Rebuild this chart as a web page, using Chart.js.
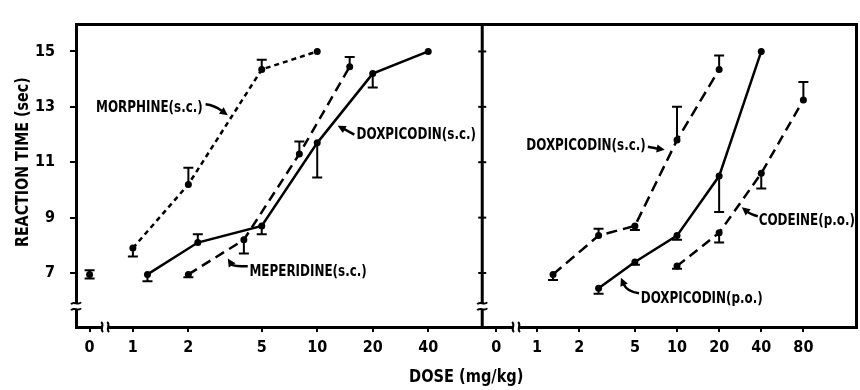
<!DOCTYPE html>
<html lang="en">
<head>
<meta charset="utf-8"/>
<title>Reaction time vs dose</title>
<script src="https://cdn.jsdelivr.net/npm/chart.js@4.4.1/dist/chart.umd.min.js"></script>
<style>
  html, body { margin: 0; padding: 0; background: #fff; }
  .wrap { width: 860px; height: 390px; }
</style>
</head>
<body>
<div class="wrap"><canvas id="chart" width="860" height="390"></canvas></div>
<script>
// dose in mg/kg, reaction time in sec; sem is [below, above] the mean
const CONTROL_DOSE = [0];
const CONTROL_TIME = [6.95];
const CONTROL_SEM = [[0.15, 0.15]];

const MORPHINE_DOSE = [1, 2, 5, 10];
const MORPHINE_TIME = [7.9, 10.2, 14.35, 15.0];
const MORPHINE_SEM = [[0.3, 0], [0, 0.6], [0, 0.35], [0, 0]];

const MEPERIDINE_DOSE = [2, 4, 8, 15];
const MEPERIDINE_TIME = [6.95, 8.2, 11.3, 14.45];
const MEPERIDINE_SEM = [[0.1, 0], [0.5, 0], [0, 0.45], [0, 0.35]];

const DOXSC_L_DOSE = [1.2, 2.25, 5, 10, 20, 40];
const DOXSC_L_TIME = [6.95, 8.1, 8.7, 11.7, 14.2, 15.0];
const DOXSC_L_SEM = [[0.25, 0], [0, 0.3], [0.3, 0], [1.25, 0], [0.5, 0], [0, 0]];

const DOXSC_R_DOSE = [1.3, 2.75, 5, 10, 20];
const DOXSC_R_TIME = [6.95, 8.35, 8.7, 11.8, 14.35];
const DOXSC_R_SEM = [[0.2, 0], [0, 0.25], [0.15, 0], [0, 1.2], [0, 0.5]];

const DOXPO_DOSE = [2.75, 5, 10, 20, 40];
const DOXPO_TIME = [6.45, 7.4, 8.35, 10.5, 15.0];
const DOXPO_SEM = [[0.2, 0], [0.1, 0], [0.15, 0], [1.3, 0], [0, 0]];

const CODEINE_DOSE = [10, 20, 40, 80];
const CODEINE_TIME = [7.25, 8.45, 10.6, 13.25];
const CODEINE_SEM = [[0.1, 0], [0.35, 0], [0.55, 0], [0, 0.65]];

const LEFT_TICKS = [0, 1, 2, 5, 10, 20, 40];
const RIGHT_TICKS = [0, 1, 2, 5, 10, 20, 40, 80];
const Y_TICKS = [7, 9, 11, 13, 15];

const FONT = '"Liberation Sans Narrow", "DejaVu Sans Condensed", sans-serif';
Chart.defaults.font.family = FONT;
Chart.defaults.color = '#000';

// doses run on a log2 axis; the control ("0") column sits left of dose 1
const CTRL_L = -0.78, CTRL_R = -0.97;
const BREAK_X = -0.5, BREAK_Y = 5.8;
const xpos = (d, ctrl) => d === 0 ? ctrl : Math.log2(d);

// drug labels with their pointer arrows, in axis units (log2 dose, sec)
const NOTES = [
  { axis: 'xL', text: 'MORPHINE(s.c.)', x: 1.26, y: 12.95, align: 'right',
    arrow: [[1.31, 13.09], [1.47, 13.05], [1.71, 12.7]] },
  { axis: 'xL', text: 'DOXPICODIN(s.c.)', x: 4.03, y: 12.0, align: 'left',
    arrow: [[3.99, 12.0], [3.84, 12.16], [3.69, 12.32]] },
  { axis: 'xL', text: 'MEPERIDINE(s.c.)', x: 2.1, y: 7.03, align: 'left',
    arrow: [[2.07, 7.24], [1.8, 7.24], [1.71, 7.52]] },
  { axis: 'xR', text: 'DOXPICODIN(s.c.)', x: 2.58, y: 11.6, align: 'right',
    arrow: [[2.63, 11.56], [2.83, 11.5], [3.03, 11.45]] },
  { axis: 'xR', text: 'CODEINE(p.o.)', x: 5.26, y: 8.88, align: 'left',
    arrow: [[5.24, 9.05], [5.07, 9.12], [4.86, 9.37]] },
  { axis: 'xR', text: 'DOXPICODIN(p.o.)', x: 2.46, y: 6.06, align: 'left',
    arrow: [[2.42, 6.27], [2.13, 6.34], [1.99, 6.83]] }
];

function series(axis, ctrl, doses, times, sem, dash, showLine) {
  return {
    xAxisID: axis, yAxisID: 'y',
    data: doses.map((d, i) => ({ x: xpos(d, ctrl), y: times[i] })),
    sem: sem,
    borderColor: '#000', backgroundColor: '#000',
    borderWidth: 2.5, borderDash: dash,
    pointRadius: 3.5, pointHoverRadius: 3.5, pointBorderWidth: 0,
    pointBackgroundColor: '#000',
    showLine: showLine !== false, tension: 0, fill: false
  };
}

function doseAxis(ticks, ctrl, min, max, weight) {
  return {
    type: 'linear', position: 'bottom', stack: 'dose', stackWeight: weight,
    min: min, max: max,
    afterBuildTicks: s => { s.ticks = ticks.map(d => ({ value: xpos(d, ctrl) })); },
    afterFit: s => { s.height = 63; },
    ticks: {
      autoSkip: false, maxRotation: 0, padding: 6,
      font: { size: 16, weight: 'bold' },
      callback: v => {
        const d = ticks.find(t => Math.abs(xpos(t, ctrl) - v) < 1e-6);
        return d === undefined ? '' : String(d);
      }
    },
    grid: { drawOnChartArea: false, tickLength: 5, color: '#000', lineWidth: 2 },
    border: { display: true, color: '#000', width: 3 }
  };
}

// narrow, heavy lettering: squeeze the text horizontally
function narrowText(ctx, text, x, y, align, squeeze, angle) {
  ctx.save();
  ctx.translate(x, y);
  if (angle) ctx.rotate(angle);
  ctx.scale(squeeze, 1);
  ctx.textAlign = align;
  ctx.fillText(text, 0, 0);
  ctx.restore();
}

function drawBreak(ctx, x, y, vertical) {
  ctx.save();
  ctx.translate(x, y);
  if (!vertical) ctx.rotate(Math.PI / 2);
  ctx.fillStyle = '#fff';
  ctx.fillRect(-3, -3, 6, 6);
  ctx.strokeStyle = '#000';
  ctx.lineWidth = 2;
  [-3, 3].forEach(o => {
    ctx.beginPath();
    ctx.moveTo(-5, o + 1);
    ctx.bezierCurveTo(-2, o - 3, 2, o + 3, 5, o - 1);
    ctx.stroke();
  });
  ctx.restore();
}

function drawArrow(ctx, pts) {
  const [a, c, b] = pts;
  const ang = Math.atan2(b[1] - c[1], b[0] - c[0]);
  const len = 8, half = 4;
  const bx = b[0] - Math.cos(ang) * (len - 1), by = b[1] - Math.sin(ang) * (len - 1);
  ctx.beginPath();
  ctx.moveTo(a[0], a[1]);
  ctx.quadraticCurveTo(c[0], c[1], bx, by);
  ctx.stroke();
  ctx.beginPath();
  ctx.moveTo(b[0], b[1]);
  ctx.lineTo(b[0] - Math.cos(ang) * len - Math.sin(ang) * half, b[1] - Math.sin(ang) * len + Math.cos(ang) * half);
  ctx.lineTo(b[0] - Math.cos(ang) * len + Math.sin(ang) * half, b[1] - Math.sin(ang) * len - Math.cos(ang) * half);
  ctx.closePath();
  ctx.fill();
}

const errorBars = {
  id: 'errorBars',
  afterDatasetsDraw(chart) {
    const ctx = chart.ctx, y = chart.scales.y;
    ctx.save();
    ctx.strokeStyle = '#000';
    ctx.lineWidth = 2;
    chart.data.datasets.forEach((ds, di) => {
      const meta = chart.getDatasetMeta(di);
      ds.data.forEach((p, i) => {
        const [lo, hi] = ds.sem[i];
        const x = meta.data[i].x;
        [[lo, -1], [hi, 1]].forEach(([e, s]) => {
          if (!e) return;
          const y0 = y.getPixelForValue(p.y), y1 = y.getPixelForValue(p.y + s * e);
          ctx.beginPath();
          ctx.moveTo(x, y0); ctx.lineTo(x, y1);
          ctx.moveTo(x - 5, y1); ctx.lineTo(x + 5, y1);
          ctx.stroke();
        });
      });
    });
    ctx.restore();
  }
};

const frame = {
  id: 'frame',
  afterDraw(chart) {
    const ctx = chart.ctx, a = chart.chartArea, y = chart.scales.y;
    const xL = chart.scales.xL, xR = chart.scales.xR;
    ctx.save();
    ctx.strokeStyle = '#000';
    ctx.fillStyle = '#000';
    ctx.lineWidth = 3;
    ctx.beginPath();
    ctx.moveTo(a.left, a.top); ctx.lineTo(a.right, a.top); ctx.lineTo(a.right, a.bottom);
    ctx.moveTo(xL.right, a.top); ctx.lineTo(xL.right, a.bottom);
    ctx.stroke();
    // ticks on the panel divider
    ctx.lineWidth = 2;
    Y_TICKS.forEach(v => {
      const py = y.getPixelForValue(v);
      ctx.beginPath(); ctx.moveTo(xL.right - 4, py); ctx.lineTo(xL.right + 4, py); ctx.stroke();
    });
    // axis breaks between control and dosed groups
    const by = y.getPixelForValue(BREAK_Y);
    drawBreak(ctx, a.left, by, true);
    drawBreak(ctx, xL.right, by, true);
    drawBreak(ctx, xL.getPixelForValue(BREAK_X), a.bottom, false);
    drawBreak(ctx, xR.getPixelForValue(BREAK_X), a.bottom, false);

    // drug labels
    ctx.font = 'bold 16px ' + FONT;
    ctx.textBaseline = 'middle';
    ctx.lineWidth = 2.5;
    NOTES.forEach(n => {
      const sx = chart.scales[n.axis];
      narrowText(ctx, n.text, sx.getPixelForValue(n.x), y.getPixelForValue(n.y), n.align, 0.83);
      drawArrow(ctx, n.arrow.map(p => [sx.getPixelForValue(p[0]), y.getPixelForValue(p[1])]));
    });

    // axis titles
    ctx.font = 'bold 18px ' + FONT;
    narrowText(ctx, 'DOSE (mg/kg)', (a.left + a.right) / 2, a.bottom + 50, 'center', 0.9);
    const midY = (y.getPixelForValue(Y_TICKS[0]) + y.getPixelForValue(Y_TICKS[Y_TICKS.length - 1])) / 2;
    narrowText(ctx, 'REACTION TIME (sec)', 23, midY, 'center', 0.88, -Math.PI / 2);
    ctx.restore();
  }
};

new Chart(document.getElementById('chart'), {
  type: 'line',
  data: {
    datasets: [
      series('xL', CTRL_L, CONTROL_DOSE, CONTROL_TIME, CONTROL_SEM, [], false),
      series('xL', CTRL_L, MORPHINE_DOSE, MORPHINE_TIME, MORPHINE_SEM, [5, 4]),
      series('xL', CTRL_L, MEPERIDINE_DOSE, MEPERIDINE_TIME, MEPERIDINE_SEM, [10, 6]),
      series('xL', CTRL_L, DOXSC_L_DOSE, DOXSC_L_TIME, DOXSC_L_SEM, []),
      series('xR', CTRL_R, DOXSC_R_DOSE, DOXSC_R_TIME, DOXSC_R_SEM, [11, 6]),
      series('xR', CTRL_R, DOXPO_DOSE, DOXPO_TIME, DOXPO_SEM, []),
      series('xR', CTRL_R, CODEINE_DOSE, CODEINE_TIME, CODEINE_SEM, [10, 6])
    ]
  },
  options: {
    responsive: false,
    animation: false,
    layout: { padding: { top: 13, right: 2, left: 0, bottom: 0 } },
    plugins: { legend: { display: false }, tooltip: { enabled: false } },
    scales: {
      y: {
        type: 'linear', position: 'left', min: 5.05, max: 15.97,
        afterBuildTicks: s => { s.ticks = Y_TICKS.map(v => ({ value: v })); },
        afterFit: s => { s.width = 76; },
        ticks: { padding: 15, font: { size: 16, weight: 'bold' } },
        grid: { drawOnChartArea: false, tickLength: 6, color: '#000', lineWidth: 2 },
        border: { color: '#000', width: 3 }
      },
      xL: doseAxis(LEFT_TICKS, CTRL_L, -1.025, 6.295, 407),
      xR: doseAxis(RIGHT_TICKS, CTRL_R, -1.303, 7.583, 375)
    }
  },
  plugins: [errorBars, frame]
});
</script>
</body>
</html>
